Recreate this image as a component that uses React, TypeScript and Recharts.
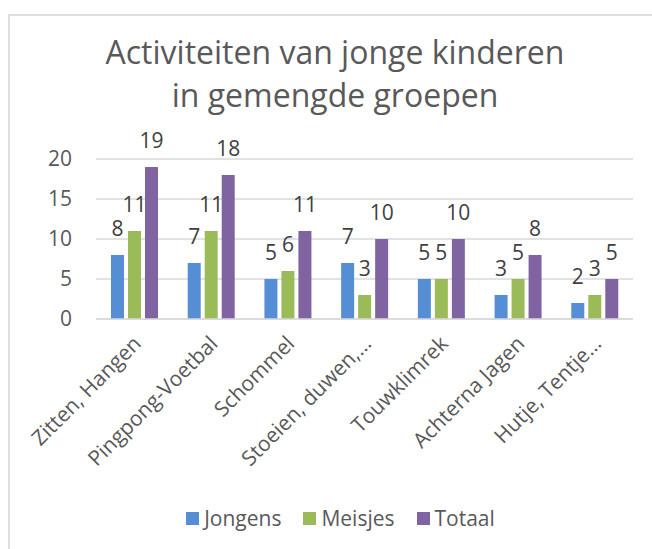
import React from "react";
import {
  BarChart,
  Bar,
  XAxis,
  YAxis,
  CartesianGrid,
  Legend,
  LabelList,
} from "recharts";

const categories = [
  "Zitten, Hangen",
  "Pingpong-Voetbal",
  "Schommel",
  "Stoeien, duwen,…",
  "Touwklimrek",
  "Achterna Jagen",
  "Hutje, Tentje…",
];
const jongens = [8, 7, 5, 7, 5, 3, 2];
const meisjes = [11, 11, 6, 3, 5, 5, 3];
const totaal = [19, 18, 11, 10, 10, 8, 5];
const yTicks = [0, 5, 10, 15, 20];

const series = [
  { key: "jongens", name: "Jongens", color: "#558ED5" },
  { key: "meisjes", name: "Meisjes", color: "#9BBB59" },
  { key: "totaal", name: "Totaal", color: "#8064A2" },
];

const data = categories.map((name, i) => ({
  name,
  jongens: jongens[i],
  meisjes: meisjes[i],
  totaal: totaal[i],
}));

const FONT = '"Open Sans", sans-serif';
const TEXT = "#595959";

function AngledTick(props: any) {
  const { x, y, payload } = props;
  return (
    <g transform={`translate(${x + 8},${y + 20})`}>
      <text
        transform="rotate(-45)"
        textAnchor="end"
        fontSize={21}
        fontFamily={FONT}
        fill={TEXT}
      >
        {payload.value}
      </text>
    </g>
  );
}

function LegendBox() {
  return (
    <div
      style={{
        height: 26,
        display: "flex",
        justifyContent: "center",
        alignItems: "center",
        fontFamily: FONT,
        fontSize: 21,
        color: TEXT,
        paddingLeft: 48,
      }}
    >
      {series.map((s) => (
        <div
          key={s.key}
          style={{ display: "flex", alignItems: "center", margin: "0 11px" }}
        >
          <span
            style={{
              width: 13,
              height: 13,
              background: s.color,
              display: "inline-block",
              marginRight: 5,
            }}
          />
          <span>{s.name}</span>
        </div>
      ))}
    </div>
  );
}

export default function App() {
  return (
    <div
      style={{
        position: "absolute",
        left: 0,
        top: 0,
        width: 652,
        height: 549,
        background: "#fff",
        overflow: "hidden",
      }}
    >
      <div
        style={{
          position: "absolute",
          left: 8,
          top: 14,
          width: 700,
          height: 600,
          borderTop: "2px solid #dedede",
          borderLeft: "2px solid #dedede",
        }}
      />
      <div
        style={{
          position: "absolute",
          left: 17,
          width: 636,
          top: 30,
          textAlign: "center",
          fontFamily: FONT,
          fontSize: 32,
          lineHeight: "43px",
          color: TEXT,
        }}
      >
        Activiteiten van jonge kinderen
        <br />
        in gemengde groepen
      </div>
      <div style={{ position: "absolute", left: 0, top: 0 }}>
        <BarChart
          width={652}
          height={549}
          data={data}
          margin={{ top: 159, right: 19, left: 0, bottom: 18 }}
          barSize={13}
          barGap={4}
        >
          <CartesianGrid vertical={false} stroke="#d9d9d9" strokeWidth={1.5} />
          <XAxis
            dataKey="name"
            interval={0}
            height={186}
            tickLine={false}
            tickMargin={0}
            axisLine={{ stroke: "#d9d9d9", strokeWidth: 1.5 }}
            tick={<AngledTick />}
          />
          <YAxis
            width={96}
            domain={[0, 20]}
            ticks={yTicks}
            axisLine={false}
            tickLine={false}
            tickMargin={18}
            tick={{ fontSize: 21, fontFamily: FONT, fill: TEXT }}
          />
          <Legend verticalAlign="bottom" content={<LegendBox />} />
          {series.map((s) => (
            <Bar
              key={s.key}
              dataKey={s.key}
              name={s.name}
              fill={s.color}
              isAnimationActive={false}
            >
              <LabelList
                dataKey={s.key}
                position="top"
                offset={19}
                fontSize={21}
                fontFamily={FONT}
                fill="#404040"
              />
            </Bar>
          ))}
        </BarChart>
      </div>
    </div>
  );
}
